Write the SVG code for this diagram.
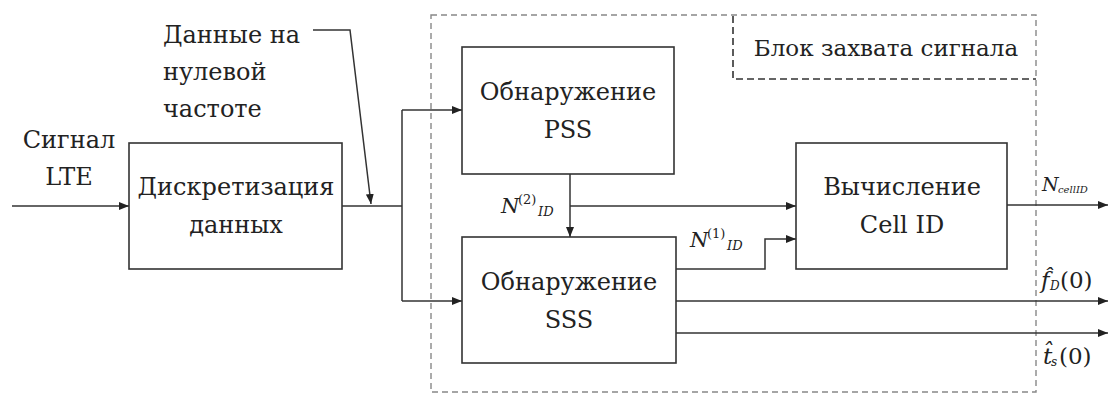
<svg xmlns="http://www.w3.org/2000/svg" width="1113" height="394" viewBox="0 0 1113 394">
<style>
text{font-family:"DejaVu Serif","Liberation Serif",serif;fill:#222;}
.lbl{font-size:24px;text-anchor:middle;}
.box{fill:#fff;stroke:#333;stroke-width:1.6;}
.ln{fill:none;stroke:#333;stroke-width:1.5;}
.it{font-style:italic;}
</style>
<defs>
<marker id="ah" viewBox="0 0 10 8" refX="10" refY="4" markerWidth="10" markerHeight="8" markerUnits="userSpaceOnUse" orient="auto">
<path d="M0,0 L10,4 L0,8 Z" fill="#222"/>
</marker>
</defs>
<rect width="1113" height="394" fill="#fff"/>

<g id="acq-block">
<rect x="431" y="15" width="605" height="377" fill="none" stroke="#888" stroke-width="1.4" stroke-dasharray="6,4"/>
<path d="M733,16 V79 H1036" fill="none" stroke="#333" stroke-width="1.6" stroke-dasharray="7,4"/>
<text x="886" y="56" class="lbl" font-size="23" style="font-size:23px">Блок захвата сигнала</text>
</g>

<g id="connectors">
<line class="ln" x1="12" y1="206" x2="129" y2="206" marker-end="url(#ah)"/>
<path class="ln" d="M342,206 H402"/>
<path class="ln" d="M402,110 V301"/>
<line class="ln" x1="402" y1="110" x2="462" y2="110" marker-end="url(#ah)"/>
<line class="ln" x1="402" y1="301" x2="462" y2="301" marker-end="url(#ah)"/>
<path class="ln" d="M313,30 H350 L371,204" stroke-width="1.2" marker-end="url(#ah)"/>
<line class="ln" x1="570" y1="174" x2="570" y2="237" marker-end="url(#ah)"/>
<line class="ln" x1="570" y1="206" x2="796" y2="206" marker-end="url(#ah)"/>
<path class="ln" d="M676,269 H765 V239 H796" marker-end="url(#ah)"/>
<line class="ln" x1="1007" y1="205" x2="1108" y2="205" marker-end="url(#ah)"/>
<line class="ln" x1="676" y1="301" x2="1108" y2="301" marker-end="url(#ah)"/>
<line class="ln" x1="676" y1="333" x2="1108" y2="333" marker-end="url(#ah)"/>
</g>

<g id="input-label">
<text x="69" y="148" class="lbl">Сигнал</text>
<text x="69" y="185" class="lbl">LTE</text>
</g>

<g id="zero-freq-label">
<text x="163" y="43" font-size="24">Данные на</text>
<text x="163" y="80" font-size="24">нулевой</text>
<text x="163" y="117" font-size="24">частоте</text>
</g>

<g id="sampling">
<rect class="box" x="129" y="143" width="213" height="126"/>
<text x="236" y="195" class="lbl">Дискретизация</text>
<text x="236" y="233" class="lbl">данных</text>
</g>

<g id="pss">
<rect class="box" x="462" y="47" width="212" height="127"/>
<text x="568" y="100" class="lbl">Обнаружение</text>
<text x="568" y="138" class="lbl">PSS</text>
</g>

<g id="sss">
<rect class="box" x="462" y="237" width="214" height="126"/>
<text x="569" y="290" class="lbl">Обнаружение</text>
<text x="569" y="328" class="lbl">SSS</text>
</g>

<g id="cellid">
<rect class="box" x="796" y="143" width="211" height="126"/>
<text x="902" y="195" class="lbl">Вычисление</text>
<text x="902" y="233" class="lbl">Cell ID</text>
</g>

<g id="math-labels">
<text x="501" y="213" font-size="21" class="it">N</text>
<text x="518" y="204" font-size="13">(2)</text>
<text x="538" y="216" font-size="13" class="it">ID</text>

<text x="690" y="247" font-size="21" class="it">N</text>
<text x="707" y="238" font-size="13">(1)</text>
<text x="727" y="250" font-size="13" class="it">ID</text>

<text x="1042" y="191" font-size="19" class="it">N</text>
<text x="1058" y="193" font-size="10" class="it">cellID</text>

<text x="1041" y="288" font-size="23" class="it">f̂</text>
<text x="1050" y="290" font-size="12" class="it">D</text>
<text x="1060" y="288" font-size="23">(0)</text>

<text x="1043" y="364" font-size="23" class="it">t̂</text>
<text x="1051" y="366" font-size="12" class="it">s</text>
<text x="1059" y="364" font-size="23">(0)</text>
</g>
</svg>
